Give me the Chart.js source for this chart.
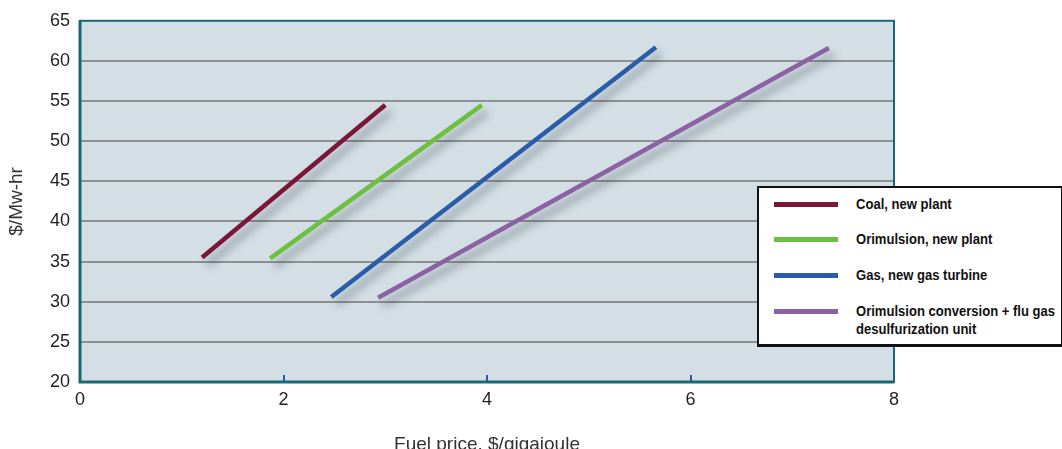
<!DOCTYPE html>
<html>
<head>
<meta charset="utf-8">
<script src="https://cdn.jsdelivr.net/npm/chart.js@4/dist/chart.umd.min.js"></script>
<style>
  body { margin: 0; background: #fff; }
  #wrap { position: relative; width: 1062px; height: 449px; overflow: hidden; }
  #legend {
    position: absolute; left: 757px; top: 186px; width: 306px; height: 161px;
    box-sizing: border-box; background: #fff;
    border: 2px solid #111; border-bottom-width: 3px;
    font-family: "Liberation Sans", Arial, sans-serif;
    font-weight: bold; font-size: 15px; color: #111;
  }
  .row { position: absolute; left: 0; }
  .swatch { position: absolute; left: 15px; width: 64px; height: 5px; }
  .txt { position: absolute; left: 97px; width: 260px; line-height: 18px; white-space: nowrap;
         transform: scaleX(0.87); transform-origin: left center; }
</style>
</head>
<body>
<div id="wrap">
  <canvas id="chart" width="1062" height="449"></canvas>
  <div id="legend"></div>
</div>
<script>
// fuel price ($/gigajoule) and cost ($/Mw-hr) at the two ends of each line
const seriesNames = ['Coal, new plant', 'Orimulsion, new plant', 'Gas, new gas turbine', 'Orimulsion conversion + flu gas|desulfurization unit'];
const seriesColors = ['#7c1638', '#6cbf40', '#2b5ca9', '#8a62a3'];

const coalPrice = [1.2, 3.0];
const coalCost = [35.5, 54.5];
const orimPrice = [1.87, 3.95];
const orimCost = [35.4, 54.5];
const gasPrice = [2.47, 5.66];
const gasCost = [30.6, 61.7];
const convPrice = [2.93, 7.36];
const convCost = [30.5, 61.6];

const xTicks = [0, 2, 4, 6, 8];
const yTicks = [20, 25, 30, 35, 40, 45, 50, 55, 60, 65];

function pts(xs, ys){
    return xs.map(function(x, i){ return {x: x, y: ys[i]}; });
}

const allSeries = [pts(coalPrice, coalCost), pts(orimPrice, orimCost), pts(gasPrice, gasCost), pts(convPrice, convCost)];

const datasets = allSeries.map(function(d, i){
    return {
        label: seriesNames[i].replace('|', ' '),
        data: d,
        showLine: true,
        borderColor: seriesColors[i],
        backgroundColor: seriesColors[i],
        borderWidth: 4.5,
        pointRadius: 0,
        borderCapStyle: 'butt'
    };
});

const plotFrame = {
    id: 'plotFrame',
    beforeDraw: function(chart){
        const a = chart.chartArea, ctx = chart.ctx;
        ctx.save();
        ctx.fillStyle = '#d3dfe5';
        ctx.fillRect(a.left, a.top, a.right - a.left, a.bottom - a.top);
        ctx.restore();
    },
    beforeDatasetsDraw: function(chart){
        const a = chart.chartArea, ctx = chart.ctx, xs = chart.scales.x;
        ctx.save();
        ctx.strokeStyle = '#2d5aa8';
        ctx.lineWidth = 2;
        [2, 4, 6].forEach(function(v){
            const px = Math.round(xs.getPixelForValue(v));
            ctx.beginPath();
            ctx.moveTo(px, a.bottom);
            ctx.lineTo(px, a.bottom - 7);
            ctx.stroke();
        });
        ctx.restore();
    },
    beforeDatasetDraw: function(chart){
        const ctx = chart.ctx;
        ctx.save();
        ctx.shadowColor = 'rgba(40,50,60,0.45)';
        ctx.shadowBlur = 8;
        ctx.shadowOffsetX = 5;
        ctx.shadowOffsetY = 7;
    },
    afterDatasetDraw: function(chart){
        chart.ctx.restore();
    },
    afterDraw: function(chart){
        const a = chart.chartArea, ctx = chart.ctx;
        ctx.save();
        ctx.strokeStyle = '#176878';
        ctx.lineWidth = 2;
        ctx.strokeRect(a.left, a.top, a.right - a.left, a.bottom - a.top);
        ctx.lineWidth = 3;
        ctx.beginPath();
        ctx.moveTo(a.left, a.top);
        ctx.lineTo(a.left, a.bottom);
        ctx.lineTo(a.right, a.bottom);
        ctx.stroke();
        ctx.restore();
    }
};

const chart = new Chart(document.getElementById('chart'), {
    type: 'scatter',
    data: { datasets: datasets },
    plugins: [plotFrame],
    options: {
        responsive: false,
        animation: false,
        layout: { padding: { top: 19, right: 168, left: 0, bottom: 0 } },
        plugins: { legend: { display: false }, tooltip: { enabled: false } },
        scales: {
            x: {
                type: 'linear', min: 0, max: 8,
                afterFit: function(s){ s.height = 67; },
                afterBuildTicks: function(s){ s.ticks = xTicks.map(function(v){ return {value: v}; }); },
                grid: { display: false, drawTicks: false },
                border: { display: false },
                ticks: { padding: 7, color: '#231f20', font: { family: 'Liberation Sans, Arial, sans-serif', size: 18 } },
                title: {
                    display: true, text: 'Fuel price, $/gigajoule', color: '#333',
                    font: { family: 'Liberation Sans, Arial, sans-serif', size: 19 },
                    padding: { top: 0, bottom: -7 }
                }
            },
            y: {
                type: 'linear', min: 20, max: 65,
                afterFit: function(s){ s.width = 80; },
                afterBuildTicks: function(s){ s.ticks = yTicks.map(function(v){ return {value: v}; }); },
                grid: {
                    drawTicks: false,
                    lineWidth: 2,
                    color: function(c){ return (c.tick && (c.tick.value === 20 || c.tick.value === 65)) ? 'rgba(0,0,0,0)' : '#8e9194'; }
                },
                border: { display: false },
                ticks: { padding: 10, color: '#231f20', font: { family: 'Liberation Sans, Arial, sans-serif', size: 18 } },
                title: {
                    display: true, text: '$/Mw-hr', color: '#333',
                    font: { family: 'Liberation Sans, Arial, sans-serif', size: 19 },
                    padding: { top: 5, bottom: 0 }
                }
            }
        }
    }
});

// legend box built from the dataset list
const legendEl = document.getElementById('legend');
const rowTops = [17, 52, 88, 124];
seriesNames.forEach(function(name, i){
    const row = document.createElement('div');
    row.className = 'row';
    row.style.top = rowTops[i] + 'px';
    const sw = document.createElement('div');
    sw.className = 'swatch';
    sw.style.background = seriesColors[i];
    sw.style.top = '-3px';
    const tx = document.createElement('div');
    tx.className = 'txt';
    tx.style.top = '-10px';
    tx.innerHTML = name.split('|').join('<br>');
    row.appendChild(sw);
    row.appendChild(tx);
    legendEl.appendChild(row);
});
</script>
</body>
</html>
